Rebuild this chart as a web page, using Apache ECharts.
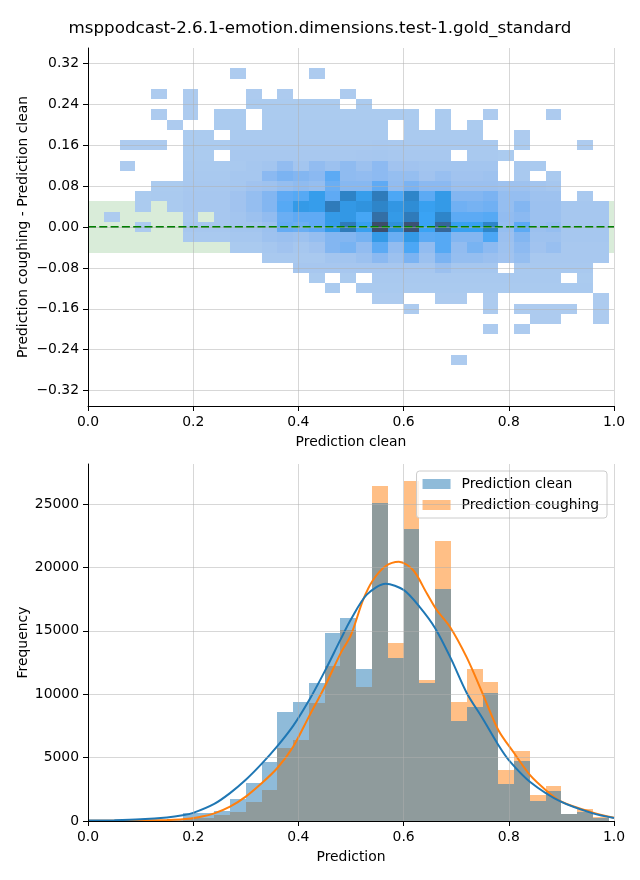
<!DOCTYPE html>
<html><head><meta charset="utf-8">
<script src="https://cdn.jsdelivr.net/npm/echarts@6/dist/echarts.min.js"></script>
<style>html,body{margin:0;padding:0;background:#fff}#c{width:640px;height:880px}</style>
</head><body><div id="c"></div>
<script>
const titleText = 'msppodcast-2.6.1-emotion.dimensions.test-1.gold_standard';

// shared x bin edges (32 bins)
const xBinEdges = [0.030,0.060,0.090,0.120,0.150,0.180,0.210,0.240,0.270,0.300,0.330,0.360,0.390,0.420,0.450,0.480,0.510,0.540,0.570,0.600,0.630,0.660,0.690,0.720,0.750,0.780,0.810,0.840,0.870,0.900,0.930,0.960,0.990];
// y bin centers of the 2D histogram (top row first)
const yBinCenters = [0.30,0.28,0.26,0.24,0.22,0.20,0.18,0.16,0.14,0.12,0.10,0.08,0.06,0.04,0.02,0.00,-0.02,-0.04,-0.06,-0.08,-0.10,-0.12,-0.14,-0.16,-0.18,-0.20,-0.22,-0.24,-0.26];
const yBinHeight = 0.02;
// relative counts per cell, one row per y bin
const cellCounts = [
[0,0,0,0,0,0,0,0,2,0,0,0,0,2,0,0,0,0,0,0,0,0,0,0,0,0,0,0,0,0,0,0],
[0,0,0,0,0,0,0,0,0,0,0,0,0,0,0,0,0,0,0,0,0,0,0,0,0,0,0,0,0,0,0,0],
[0,0,0,2,0,2,0,0,0,2,0,2,0,0,0,2,0,0,0,0,0,0,0,0,0,0,0,0,0,0,0,0],
[0,0,0,0,0,2,0,0,0,3,3,3,3,3,3,0,3,0,0,0,0,0,0,0,0,0,0,0,0,0,0,0],
[0,0,0,2,0,2,0,3,3,0,3,3,3,3,3,3,3,3,3,3,0,3,0,0,2,0,0,0,2,0,0,0],
[0,0,0,0,2,0,0,3,3,0,4,4,4,4,4,4,4,4,0,4,0,3,0,3,0,0,0,0,0,0,0,0],
[0,0,0,0,0,3,3,0,4,4,4,4,4,4,4,4,4,4,0,4,4,4,4,4,0,0,2,0,0,0,0,0],
[0,2,2,2,0,3,3,3,5,5,5,5,5,5,5,5,5,6,5,5,5,5,5,5,5,0,3,0,0,0,2,0],
[0,0,0,0,0,3,3,0,6,6,6,6,6,6,6,6,7,8,6,6,6,6,0,5,5,3,0,0,0,0,0,0],
[0,2,0,0,0,4,4,4,5,8,10,22,10,22,15,24,15,25,12,12,10,10,10,10,10,0,5,4,0,0,0,0],
[0,0,0,0,0,5,5,5,8,8,26,34,30,26,45,24,22,25,20,20,12,18,12,12,14,0,5,0,4,0,0,0],
[0,0,0,3,3,6,6,6,8,12,14,20,24,20,40,28,28,44,22,34,26,26,16,16,16,14,14,10,8,0,0,0],
[0,0,3,4,4,7,7,7,12,20,30,44,47,60,44,76,60,80,50,75,45,62,30,30,34,20,20,14,14,0,5,0],
[0,0,3,0,4,7,7,7,12,20,30,47,62,60,80,63,66,75,64,70,58,62,38,36,38,20,30,15,15,8,8,8],
[2,0,0,0,0,5,0,7,10,15,22,40,44,44,62,63,52,86,62,80,56,75,45,45,47,22,26,15,15,8,8,8],
[0,0,2,0,0,7,7,7,10,10,15,42,40,44,61,80,58,100,68,98,56,90,58,58,75,20,45,16,20,8,8,8],
[0,0,0,0,0,5,5,5,8,8,14,16,14,20,30,30,36,62,40,62,45,47,30,30,50,16,30,14,14,8,8,8],
[0,0,0,0,0,0,0,0,4,4,8,12,8,12,30,35,22,45,22,50,22,47,22,35,25,14,25,12,18,6,6,6],
[0,0,0,0,0,0,0,0,0,0,5,5,5,5,10,10,15,26,15,34,15,34,20,20,16,12,20,6,6,6,6,6],
[0,0,0,0,0,0,0,0,0,0,0,0,7,7,7,7,7,7,7,7,7,16,8,8,8,0,5,5,5,5,5,0],
[0,0,0,0,0,0,0,0,0,0,0,0,0,3,0,3,0,5,5,5,5,5,5,5,5,5,5,5,5,0,3,0],
[0,0,0,0,0,0,0,0,0,0,0,0,0,0,3,0,4,4,4,4,4,4,4,4,4,4,4,4,4,4,4,0],
[0,0,0,0,0,0,0,0,0,0,0,0,0,0,0,0,0,2,2,0,0,2,2,0,2,0,0,0,0,0,0,2],
[0,0,0,0,0,0,0,0,0,0,0,0,0,0,0,0,0,0,0,2,0,0,0,0,2,0,2,2,2,2,0,2],
[0,0,0,0,0,0,0,0,0,0,0,0,0,0,0,0,0,0,0,0,0,0,0,0,0,0,0,2,2,0,0,2],
[0,0,0,0,0,0,0,0,0,0,0,0,0,0,0,0,0,0,0,0,0,0,0,0,2,0,2,0,0,0,0,0],
[0,0,0,0,0,0,0,0,0,0,0,0,0,0,0,0,0,0,0,0,0,0,0,0,0,0,0,0,0,0,0,0],
[0,0,0,0,0,0,0,0,0,0,0,0,0,0,0,0,0,0,0,0,0,0,0,0,0,0,0,0,0,0,0,0],
[0,0,0,0,0,0,0,0,0,0,0,0,0,0,0,0,0,0,0,0,0,0,2,0,0,0,0,0,0,0,0,0]
];
const diffBand = [-0.05, 0.05];
const refLineY = 0;
const topXTicks = [0, 0.2, 0.4, 0.6, 0.8, 1.0];
const topYTicks = [-0.32, -0.24, -0.16, -0.08, 0, 0.08, 0.16, 0.24, 0.32];
const topYRange = [-0.35, 0.35];

// bottom histogram counts per bin
const countClean = [10,20,25,40,80,630,630,800,1740,3000,4650,8600,9380,10880,14830,16010,11990,25080,12850,23030,10860,18300,7890,8990,10090,2920,4730,1580,2370,550,710,200];
const countCough = [0,5,10,15,30,200,250,500,700,1520,2440,5760,6390,9300,12220,15060,10570,26420,14040,26810,11120,22080,9410,11990,10960,4020,5520,2050,2760,550,950,350];
const kdeCleanX = [0,0.05,0.10,0.15,0.18,0.20,0.24,0.27,0.30,0.33,0.36,0.39,0.42,0.45,0.48,0.50,0.53,0.566,0.60,0.63,0.66,0.69,0.72,0.75,0.78,0.80,0.84,0.90,0.96,1.0];
const kdeCleanY = [30,60,130,280,450,640,1350,2200,3250,4500,5900,7500,9500,11800,14300,15900,17850,18700,18220,16900,15200,12800,10100,8100,6000,4800,3100,1500,600,230];
const kdeCoughX = [0,0.05,0.10,0.15,0.18,0.21,0.24,0.27,0.30,0.33,0.36,0.39,0.42,0.45,0.48,0.50,0.523,0.542,0.566,0.591,0.618,0.644,0.663,0.688,0.72,0.75,0.78,0.81,0.84,0.87,0.90,0.96,1.0];
const kdeCoughY = [10,20,40,80,130,300,600,1130,1920,2970,4180,5860,8230,10590,13200,14670,17430,19000,20110,20450,19790,17960,16640,15320,12900,10070,7180,5360,3630,2450,1520,660,260];
const freqTicks = [0, 5000, 10000, 15000, 20000, 25000];
const freqMax = 28150;
const seriesNames = ['Prediction clean', 'Prediction coughing'];

const FONT = 'DejaVu Sans';
const cellData = [];
yBinCenters.forEach((yc, r) => {
  cellCounts[r].forEach((v, i) => {
    if (v > 0) cellData.push([xBinEdges[i], xBinEdges[i + 1], yc - yBinHeight / 2, yc + yBinHeight / 2, v]);
  });
});
const barsOf = arr => arr.map((v, i) => [xBinEdges[i], xBinEdges[i + 1], v]);
const zip = (xs, ys) => xs.map((x, i) => [x, ys[i]]);

function rectItem(p0, p1, fill) {
  const x0 = Math.round(p0[0]), y0 = Math.round(p0[1]);
  const x1 = Math.round(p1[0]), y1 = Math.round(p1[1]);
  return { type: 'rect', shape: { x: x0, y: y0, width: x1 - x0, height: y1 - y0 }, style: { fill: fill } };
}
function renderCell(params, api) {
  return rectItem(api.coord([api.value(0), api.value(3)]), api.coord([api.value(1), api.value(2)]), api.visual('color'));
}
function renderBand(params, api) {
  return rectItem(api.coord([api.value(0), api.value(3)]), api.coord([api.value(1), api.value(2)]), 'rgba(0,128,0,0.15)');
}
function barRenderer(fill) {
  return function (params, api) {
    return rectItem(api.coord([api.value(0), api.value(2)]), api.coord([api.value(1), 0]), fill);
  };
}

const axisLine = { show: true, onZero: false, lineStyle: { color: '#000', width: 1 } };
const gridLine = { show: true, lineStyle: { color: 'rgba(176,176,176,0.5)', width: 1 } };
const lbl = { color: '#000', fontSize: 13.9, fontFamily: FONT };
const nameStyle = { color: '#000', fontSize: 13.9, fontFamily: FONT };
const fmtX = v => v.toFixed(1);
const fmtDiff = v => (v < -1e-9 ? '\u2212' : '') + Math.abs(v).toFixed(2);
const fmtInt = v => String(Math.round(v));

const chart = echarts.init(document.getElementById('c'), null, { renderer: 'canvas' });
chart.setOption({
  animation: false,
  textStyle: { fontFamily: FONT },
  title: { text: titleText, left: 'center', top: 15, textStyle: { fontSize: 16.7, fontWeight: 'normal', color: '#000', fontFamily: FONT } },
  grid: [
    { left: 88, top: 48, width: 526, height: 358 },
    { left: 88, top: 464, width: 526, height: 357 }
  ],
  xAxis: [
    { gridIndex: 0, type: 'value', min: 0, max: 1, z: 10, axisLine, splitLine: gridLine,
      axisTick: { show: true, inside: false, length: 5, lineStyle: { color: '#000' }, customValues: topXTicks },
      axisLabel: Object.assign({ margin: 9, formatter: fmtX, customValues: topXTicks }, lbl),
      name: 'Prediction clean', nameLocation: 'middle', nameGap: 29, nameTextStyle: nameStyle },
    { gridIndex: 1, type: 'value', min: 0, max: 1, z: 10, axisLine, splitLine: gridLine,
      axisTick: { show: true, inside: false, length: 5, lineStyle: { color: '#000' }, customValues: topXTicks },
      axisLabel: Object.assign({ margin: 9, formatter: fmtX, customValues: topXTicks }, lbl),
      name: 'Prediction', nameLocation: 'middle', nameGap: 29, nameTextStyle: nameStyle }
  ],
  yAxis: [
    { gridIndex: 0, type: 'value', min: topYRange[0], max: topYRange[1], z: 10, axisLine, splitLine: gridLine,
      axisTick: { show: true, inside: false, length: 5, lineStyle: { color: '#000' }, customValues: topYTicks },
      axisLabel: Object.assign({ margin: 9, formatter: fmtDiff, customValues: topYTicks }, lbl),
      name: 'Prediction coughing - Prediction clean', nameLocation: 'middle', nameGap: 58, nameMoveOverlap: false, nameTextStyle: nameStyle },
    { gridIndex: 1, type: 'value', min: 0, max: freqMax, z: 10, axisLine, splitLine: gridLine,
      axisTick: { show: true, inside: false, length: 5, lineStyle: { color: '#000' }, customValues: freqTicks },
      axisLabel: Object.assign({ margin: 9, formatter: fmtInt, customValues: freqTicks }, lbl),
      name: 'Frequency', nameLocation: 'middle', nameGap: 58, nameMoveOverlap: false, nameTextStyle: nameStyle }
  ],
  visualMap: {
    show: false, type: 'continuous', seriesIndex: 1, dimension: 4, min: 0, max: 100,
    inRange: { color: ['#afcdef', '#a2c4ef', '#92bcf0', '#7db4f2', '#5eaaf4', '#3aa4f5', '#2f92dd', '#2e80c2', '#35699c', '#3d4d6b'] }
  },
  legend: {
    orient: 'vertical', right: 33, top: 471, padding: [6, 8, 6, 6],
    itemWidth: 28, itemHeight: 10, itemGap: 7,
    backgroundColor: 'rgba(255,255,255,0.8)', borderColor: '#cccccc', borderWidth: 1, borderRadius: 3,
    textStyle: { color: '#000', fontSize: 13.9, fontFamily: FONT, padding: [0, 0, 0, 6] },
    data: [
      { name: seriesNames[0], icon: 'rect', itemStyle: { color: 'rgba(31,119,180,0.5)' } },
      { name: seriesNames[1], icon: 'rect', itemStyle: { color: 'rgba(255,127,14,0.5)' } }
    ]
  },
  series: [
    { type: 'custom', name: 'band', xAxisIndex: 0, yAxisIndex: 0, z: 1, silent: true,
      renderItem: renderBand, encode: { x: [0, 1], y: [2, 3] },
      data: [[0, 1, diffBand[0], diffBand[1]]] },
    { type: 'custom', name: 'cells', xAxisIndex: 0, yAxisIndex: 0, z: 2, silent: true,
      renderItem: renderCell, encode: { x: [0, 1], y: [2, 3] }, data: cellData },
    { type: 'line', name: 'zero', xAxisIndex: 0, yAxisIndex: 0, z: 5, silent: true, symbol: 'none',
      lineStyle: { color: '#008000', width: 2, type: [8, 3.3] },
      data: [[0, refLineY], [1, refLineY]] },
    { type: 'custom', name: seriesNames[1], xAxisIndex: 1, yAxisIndex: 1, z: 2, silent: true,
      itemStyle: { color: 'rgba(255,127,14,0.5)' },
      renderItem: barRenderer('rgba(255,127,14,0.5)'), encode: { x: [0, 1], y: 2 }, data: barsOf(countCough) },
    { type: 'custom', name: seriesNames[0], xAxisIndex: 1, yAxisIndex: 1, z: 3, silent: true,
      itemStyle: { color: 'rgba(31,119,180,0.5)' },
      renderItem: barRenderer('rgba(31,119,180,0.5)'), encode: { x: [0, 1], y: 2 }, data: barsOf(countClean) },
    { type: 'line', name: 'kde coughing', xAxisIndex: 1, yAxisIndex: 1, z: 6, silent: true, symbol: 'none', smooth: 0.3,
      lineStyle: { color: '#ff7f0e', width: 2 }, itemStyle: { color: '#ff7f0e' }, data: zip(kdeCoughX, kdeCoughY) },
    { type: 'line', name: 'kde clean', xAxisIndex: 1, yAxisIndex: 1, z: 7, silent: true, symbol: 'none', smooth: 0.3,
      lineStyle: { color: '#1f77b4', width: 2 }, itemStyle: { color: '#1f77b4' }, data: zip(kdeCleanX, kdeCleanY) }
  ]
});
</script>
</body></html>
